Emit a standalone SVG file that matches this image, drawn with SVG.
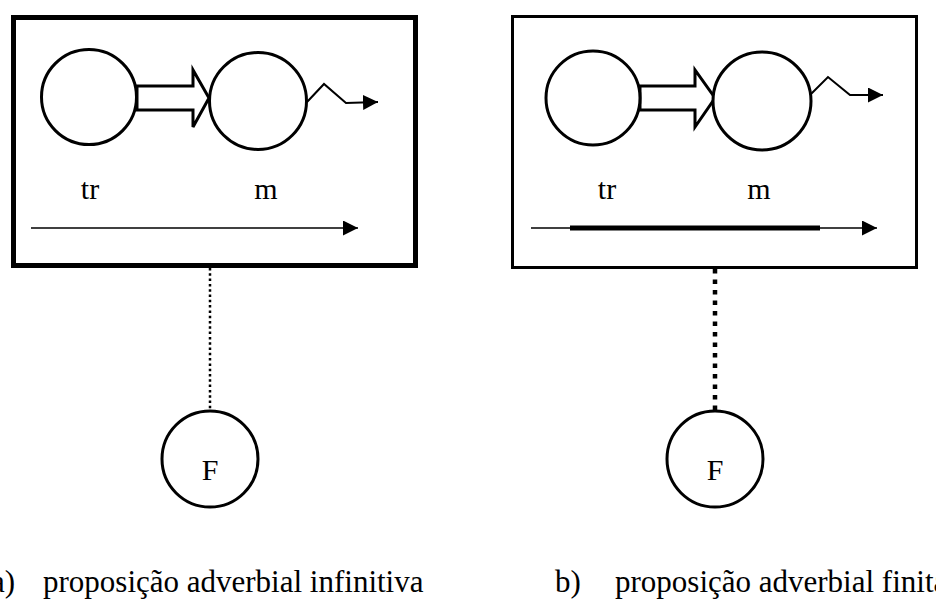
<svg xmlns="http://www.w3.org/2000/svg" width="936" height="600" viewBox="0 0 936 600">
<defs>
<style>
text{font-family:"Liberation Serif",Tinos,"Times New Roman",serif;fill:#000}
.c{fill:#fff;stroke:#000;stroke-width:3}
.ln{fill:none;stroke:#000}
</style>
<marker id="ah" viewBox="0 0 10 10" refX="10" refY="5" markerWidth="15" markerHeight="15" markerUnits="userSpaceOnUse" orient="auto"><path d="M0,0L10,5L0,10Z" fill="#000"/></marker>
</defs>
<rect width="936" height="600" fill="#fff"/>

<g id="frameA">
<rect x="13.5" y="17.5" width="402" height="248" fill="#fff" stroke="#000" stroke-width="5"/>
</g>
<g id="frameB">
<rect x="512.5" y="16.5" width="404" height="251" fill="#fff" stroke="#000" stroke-width="3"/>
</g>

<g id="connectors">
<polygon points="137,86 193,86 193,70 209,98 193,127 193,110 137,110" fill="#fff" stroke="#000" stroke-width="3" stroke-linejoin="miter"/>
<polygon points="640,86 695,86 695,70 715,98 695,127 695,110 640,110" fill="#fff" stroke="#000" stroke-width="3" stroke-linejoin="miter"/>
<polyline class="ln" stroke-width="2" points="307,102 324,84 346,103 378,102" marker-end="url(#ah)"/>
<polyline class="ln" stroke-width="2" points="811,94 828,77 850,95 883,95" marker-end="url(#ah)"/>
<line class="ln" stroke-width="1.5" x1="31" y1="228" x2="358" y2="228" marker-end="url(#ah)"/>
<line class="ln" stroke-width="1.5" x1="531" y1="228" x2="877" y2="228" marker-end="url(#ah)"/>
<line class="ln" stroke-width="5" x1="570" y1="228" x2="820" y2="228"/>
<line class="ln" stroke-width="2.5" stroke-dasharray="2.5 2.8" x1="210" y1="268" x2="210" y2="410"/>
<line class="ln" stroke-width="4.5" stroke-dasharray="4.5 6" x1="715" y1="269" x2="715" y2="410"/>
</g>

<g id="trA"><circle class="c" cx="89" cy="97" r="47.5"/><text x="90" y="199" font-size="30" text-anchor="middle">tr</text></g>
<g id="mA"><circle class="c" cx="258" cy="101" r="48.5"/><text x="266" y="199" font-size="30" text-anchor="middle">m</text></g>
<g id="trB"><circle class="c" cx="593" cy="98" r="47"/><text x="607" y="199" font-size="30" text-anchor="middle">tr</text></g>
<g id="mB"><circle class="c" cx="762" cy="101" r="49"/><text x="759" y="199" font-size="30" text-anchor="middle">m</text></g>

<g id="FA"><circle class="c" cx="210" cy="459" r="48"/><text x="210" y="480" font-size="30" text-anchor="middle">F</text></g>
<g id="FB"><circle class="c" cx="715" cy="459" r="48"/><text x="715" y="480" font-size="30" text-anchor="middle">F</text></g>

<g id="captions">
<text x="-9" y="592" font-size="31">a)</text>
<text x="43" y="592" font-size="31">proposição adverbial infinitiva</text>
<text x="555" y="592" font-size="31">b)</text>
<text x="615" y="592" font-size="31">proposição adverbial finita</text>
</g>
</svg>
